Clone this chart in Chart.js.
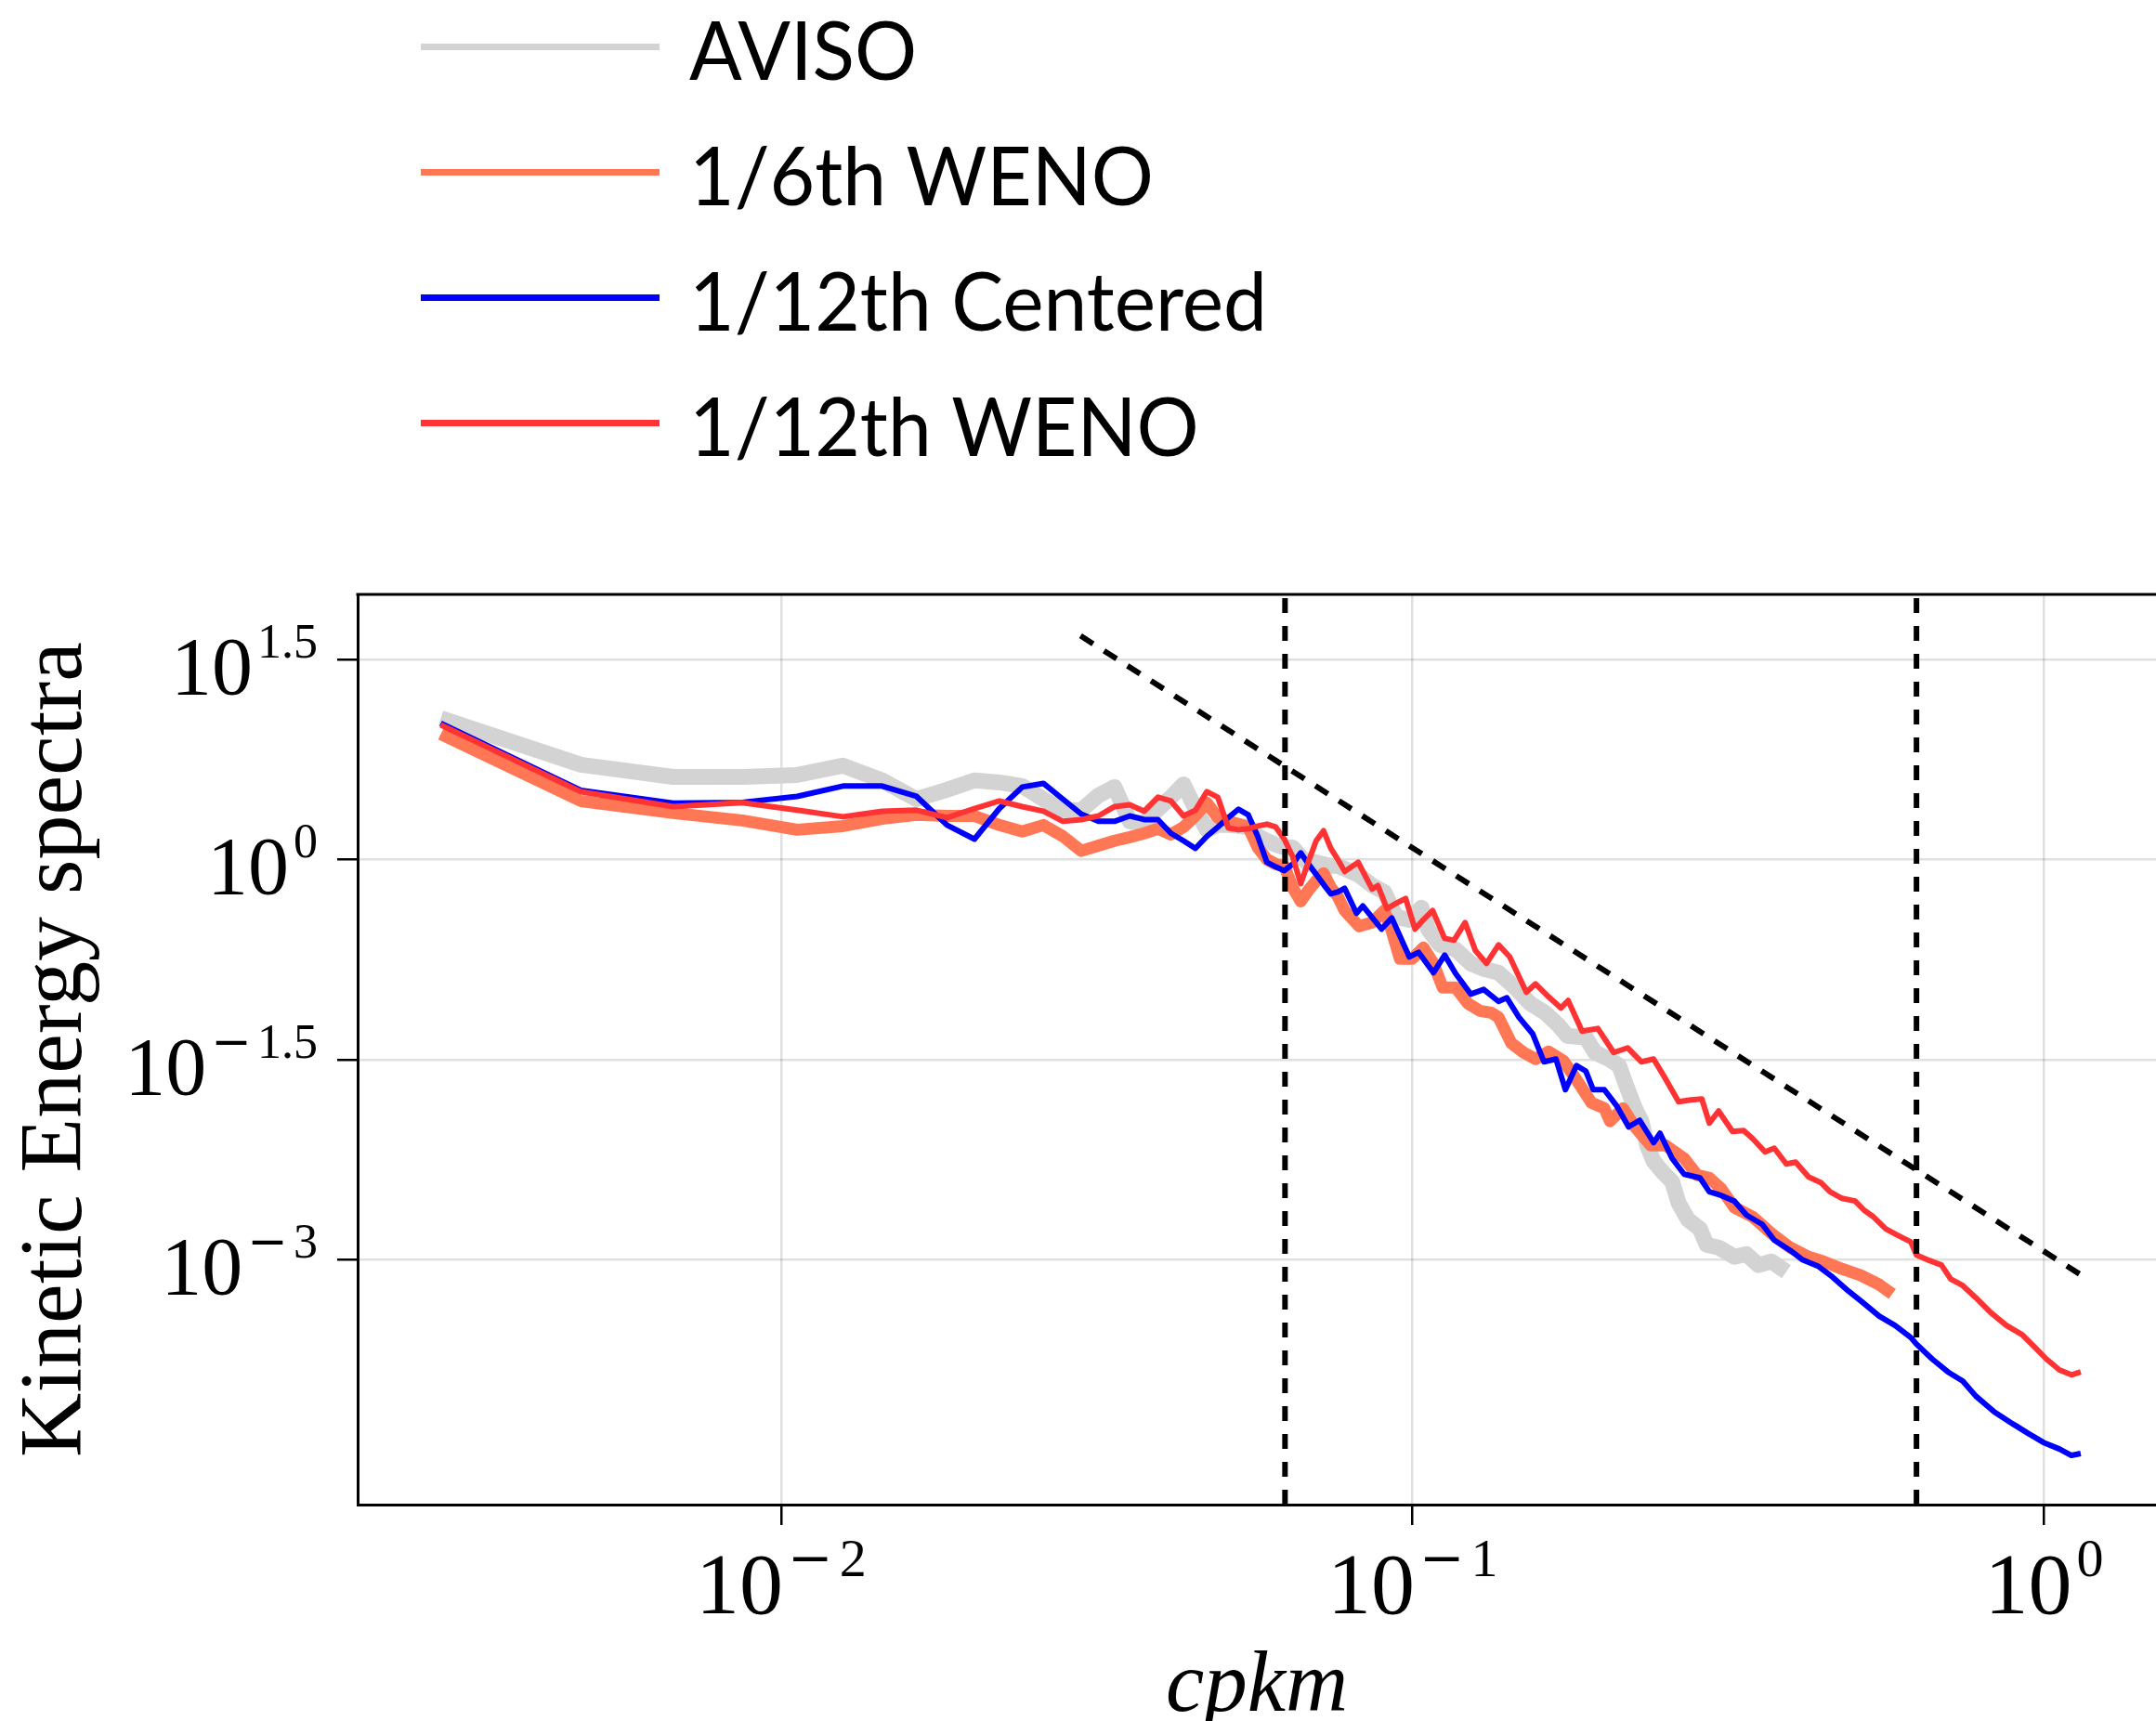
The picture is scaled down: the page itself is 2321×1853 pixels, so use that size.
<!DOCTYPE html>
<html>
<head>
<meta charset="utf-8">
<title>Kinetic Energy spectra</title>
<script src="https://cdn.jsdelivr.net/npm/chart.js@4.4.1/dist/chart.umd.min.js"></script>
<style>
  html, body { margin: 0; padding: 0; background: #fff; overflow: hidden; }
  canvas { display: block; }
</style>
</head>
<body>
<canvas id="spectra" width="2321" height="1853"></canvas>
<script>
// wavenumbers of the first 40 samples (shared by every run), cpkm
const kGrid = [0.002891, 0.004819, 0.006746, 0.008674, 0.010601, 0.012529, 0.014456, 0.016384, 0.018311, 0.020239,
  0.022166, 0.024094, 0.026021, 0.027949, 0.029876, 0.031804, 0.033731, 0.035659, 0.037586, 0.039514,
  0.041441, 0.043369, 0.045296, 0.047224, 0.049151, 0.051079, 0.053006, 0.054934, 0.056861, 0.058789,
  0.060716, 0.062644, 0.064571, 0.066499, 0.068426, 0.070354, 0.072281, 0.074209, 0.076136, 0.078064];

// AVISO
const avisoLowE = [11.43, 5.13, 4.16, 4.16, 4.30, 5.05, 3.91, 2.83, 3.33, 3.91,
  3.78, 3.55, 2.83, 2.34, 2.34, 3.02, 3.49, 1.93, 1.87, 2.38,
  2.93, 3.66, 2.41, 1.67, 1.81, 1.81, 1.78, 1.75, 1.49, 1.38,
  1.29, 1.23, 1.23, 1.05, 0.923, 0.953, 0.923, 0.894, 0.894, 0.852];
const avisoK = [0.0823, 0.0863, 0.0902, 0.0943, 0.0988, 0.1033, 0.1058, 0.1105, 0.1170, 0.1236,
  0.1296, 0.1368, 0.1449, 0.1535, 0.1620, 0.1699, 0.1758, 0.1881, 0.1945, 0.2046,
  0.2124, 0.2175, 0.2250, 0.2304, 0.2352, 0.2408, 0.2491, 0.2576, 0.2638, 0.2729,
  0.2852, 0.2921, 0.3052, 0.3233, 0.3378, 0.3530, 0.3702, 0.3907];
const avisoE = [0.7615, 0.638, 0.5706, 0.3703, 0.3529, 0.4347, 0.3007, 0.2290, 0.2113, 0.1662,
  0.1510, 0.1416, 0.1113, 0.0834, 0.0711, 0.0577, 0.0476, 0.0461, 0.0357, 0.0319,
  0.0285, 0.0207, 0.01365, 0.01091, 0.00719, 0.00547, 0.00452, 0.00385, 0.00266, 0.00200,
  0.00170, 0.001294, 0.001234, 0.001051, 0.001103, 0.000910, 0.000970, 0.000813];

// 1/6th WENO
const weno6LowE = [8.70, 2.74, 2.23, 1.96, 1.67, 1.78, 2.02, 2.16, 2.12, 2.12,
  1.81, 1.62, 1.81, 1.49, 1.16, 1.27, 1.38, 1.47, 1.57, 1.70,
  1.54, 1.75, 2.12, 2.66, 2.06, 1.93, 1.84, 1.75, 1.23, 1.00,
  0.923, 0.894, 0.618, 0.486, 0.589, 0.692, 0.787, 0.618, 0.527, 0.414];
const weno6K = [0.0823, 0.0863, 0.0902, 0.0923, 0.0955, 0.0998, 0.1040, 0.1079, 0.1116, 0.1170,
  0.1223, 0.1278, 0.1331, 0.1368, 0.1434, 0.1499, 0.1566, 0.1642, 0.1734, 0.1837,
  0.1919, 0.2012, 0.2054, 0.2154, 0.2250, 0.2383, 0.2516, 0.2692, 0.2823, 0.2951,
  0.3083, 0.3233, 0.3459, 0.3702, 0.3961, 0.4238, 0.4474, 0.4787, 0.5124, 0.5483, 0.5749];
const weno6E = [0.3155, 0.3363, 0.4143, 0.3105, 0.1800, 0.1800, 0.2183, 0.1662, 0.1096, 0.1096,
  0.0834, 0.0734, 0.0711, 0.0656, 0.0419, 0.0357, 0.0319, 0.0363, 0.0309, 0.0207,
  0.01502, 0.01365, 0.01091, 0.01365, 0.00990, 0.00719, 0.00719, 0.00574, 0.00431, 0.00410,
  0.00339, 0.00246, 0.00209, 0.00157, 0.001234, 0.001051, 0.000970, 0.000853, 0.000763, 0.000650, 0.000553];

// 1/12th Centered
const centLowE = [10.5, 3.30, 2.64, 2.68, 2.97, 3.55, 3.55, 2.97, 1.81, 1.42,
  2.41, 3.49, 3.72, 2.83, 2.19, 1.93, 1.93, 2.12, 1.99, 1.99,
  1.57, 1.38, 1.21, 1.49, 1.75, 2.06, 2.38, 2.16, 1.49, 0.953,
  0.880, 0.824, 0.923, 1.12, 0.923, 0.774, 0.649, 0.553, 0.571, 0.608];
const centK = [0.0815, 0.0834, 0.0893, 0.0927, 0.0988, 0.1022, 0.1079, 0.1124, 0.1170, 0.1236,
  0.1296, 0.1368, 0.1410, 0.1474, 0.1550, 0.1615, 0.1687, 0.1746, 0.1818, 0.1881,
  0.1932, 0.2012, 0.2103, 0.2198, 0.2289, 0.2408, 0.2465, 0.2576, 0.2692, 0.2852,
  0.2951, 0.3083, 0.3233, 0.3378, 0.3578, 0.3739, 0.3961, 0.4139, 0.4384, 0.4628,
  0.4902, 0.5158, 0.5483, 0.5808, 0.6152, 0.6278, 0.6650, 0.7044, 0.7435, 0.7796,
  0.8342, 0.8925, 0.9426, 0.9984, 1.0576, 1.105, 1.143];
const centE = [0.3949, 0.4488, 0.3007, 0.3643, 0.1859, 0.2014, 0.1416, 0.1919, 0.1393, 0.0979,
  0.1061, 0.0862, 0.0918, 0.0656, 0.0492, 0.0304, 0.0319, 0.0188, 0.0285, 0.0259,
  0.0188, 0.0188, 0.0143, 0.00990, 0.01108, 0.00754, 0.00885, 0.00574, 0.00437, 0.00410,
  0.00323, 0.00303, 0.00275, 0.00216, 0.00184, 0.00140, 0.001176, 0.001002, 0.000895, 0.000739,
  0.000581, 0.000479, 0.000377, 0.000321, 0.000261, 0.000233, 0.000180, 0.000144, 0.000123, 0.0000950,
  0.0000723, 0.0000587, 0.0000500, 0.0000426, 0.0000381, 0.0000341, 0.0000352];

// 1/12th WENO
const weno12LowE = [10.21, 3.22, 2.49, 2.66, 2.34, 2.09, 2.30, 2.34, 2.06, 2.41,
  2.74, 2.49, 2.30, 1.93, 1.99, 2.12, 2.49, 2.57, 2.30, 2.93,
  2.74, 2.12, 2.34, 3.22, 2.93, 1.72, 1.67, 1.70, 1.78, 1.84,
  1.75, 1.42, 1.05, 0.659, 0.968, 1.38, 1.64, 1.21, 1.00, 0.812];
const weno12K = [0.0820, 0.0863, 0.0881, 0.0911, 0.0943, 0.0975, 0.1009, 0.1040, 0.1076, 0.1124,
  0.1163, 0.1211, 0.1257, 0.1309, 0.1368, 0.1425, 0.1514, 0.1566, 0.1642, 0.1717,
  0.1763, 0.1855, 0.1965, 0.2082, 0.2190, 0.2304, 0.2408, 0.2508, 0.2638, 0.2757,
  0.2871, 0.2951, 0.3052, 0.3211, 0.3344, 0.3459, 0.3615, 0.3739, 0.3907, 0.4042,
  0.4238, 0.4429, 0.4581, 0.4787, 0.5020, 0.5193, 0.5371, 0.5615, 0.5867, 0.6152,
  0.6278, 0.6582, 0.6879, 0.7115, 0.7435, 0.7796, 0.8230, 0.8718, 0.9234, 0.9652,
  1.0085, 1.0576, 1.105, 1.143];
const weno12E = [0.953, 0.599, 0.638, 0.428, 0.471, 0.510, 0.3007, 0.3529, 0.4143, 0.2562,
  0.2481, 0.3363, 0.2080, 0.1662, 0.2290, 0.1859, 0.1011, 0.1168, 0.0934, 0.0770,
  0.0876, 0.0516, 0.0541, 0.0357, 0.0387, 0.0304, 0.0319, 0.0232, 0.01527, 0.01576,
  0.01602, 0.01056, 0.01301, 0.00914, 0.00929, 0.00804, 0.00643, 0.00685, 0.00522, 0.00539,
  0.00417, 0.00379, 0.00323, 0.00288, 0.00275, 0.00234, 0.00209, 0.00170, 0.00152, 0.00136,
  0.001085, 0.000986, 0.000910, 0.000715, 0.000639, 0.000519, 0.000402, 0.000321, 0.000274, 0.000222,
  0.000180, 0.000149, 0.000137, 0.000144];

// reference lines: two scale markers and a k^-3 slope
const markerK = [0.0628, 0.628];
const slopeK = [0.0298, 1.147];
const slopeE = [47.5, 0.000762];

// axes
const xRange = [0.002135, 1.504];
const yRange = [1.459e-5, 97.0];
const xTickValues = [0.01, 0.1, 1];
const xTickExponents = ['-2', '-1', '0'];
const yTickValues = [0.001, 0.0316228, 1, 31.6228];
const yTickExponents = ['-3', '-1.5', '0', '1.5'];

const toPoints = (ks, es) => ks.map((k, i) => ({ x: k, y: es[i] }));

function series(label, color, width, order, ks, es) {
  return {
    label, data: toPoints(ks, es), borderColor: color, backgroundColor: color,
    borderWidth: width, pointRadius: 0, tension: 0, fill: false, order,
    borderJoinStyle: 'round', borderCapStyle: 'butt'
  };
}

function refLine(points) {
  return {
    label: '', isRef: true, data: points, borderColor: '#000', borderWidth: 6,
    borderDash: [16, 14], pointRadius: 0, fill: false, order: 0
  };
}

const datasets = [
  series('AVISO', '#d3d3d3', 17, 4, kGrid.concat(avisoK), avisoLowE.concat(avisoE)),
  series('1/6th WENO', '#ff7755', 13, 3, kGrid.concat(weno6K), weno6LowE.concat(weno6E)),
  series('1/12th Centered', '#0000ff', 6, 2, kGrid.concat(centK), centLowE.concat(centE)),
  series('1/12th WENO', '#ff3333', 6, 1, kGrid.concat(weno12K), weno12LowE.concat(weno12E)),
  refLine([{ x: markerK[0], y: yRange[0] }, { x: markerK[0], y: yRange[1] }]),
  refLine([{ x: markerK[1], y: yRange[0] }, { x: markerK[1], y: yRange[1] }]),
  refLine(toPoints(slopeK, slopeE))
];

// superscript: a long math minus (DejaVu) followed by the digits (Liberation)
function expWidth(ctx, s, size) {
  let w = 0, rest = s;
  if (s[0] === '-') {
    ctx.font = size + 'px "DejaVu Serif"';
    w += ctx.measureText('\u2212').width + size * 0.12;
    rest = s.slice(1);
  }
  ctx.font = size + 'px "Liberation Serif"';
  return w + ctx.measureText(rest).width;
}

function drawExp(ctx, s, size, x0, yb) {
  let x = x0, rest = s;
  if (s[0] === '-') {
    ctx.font = size + 'px "DejaVu Serif"';
    ctx.fillText('\u2212', x, yb);
    x += ctx.measureText('\u2212').width + size * 0.12;
    rest = s.slice(1);
  }
  ctx.font = size + 'px "Liberation Serif"';
  ctx.fillText(rest, x, yb);
}

// legend, tick labels (10 with superscript) and top frame line
const decor = {
  id: 'decor',
  afterDraw(chart) {
    const { ctx, chartArea, scales: { x, y } } = chart;
    ctx.save();

    ctx.strokeStyle = '#000';
    ctx.lineWidth = 3;
    ctx.beginPath();
    ctx.moveTo(chartArea.left - 1.5, chartArea.top);
    ctx.lineTo(chartArea.right, chartArea.top);
    ctx.stroke();

    ctx.fillStyle = '#000';
    ctx.textBaseline = 'alphabetic';
    ctx.textAlign = 'left';

    // y tick labels
    const yRight = y.right - 43;
    yTickValues.forEach((v, i) => {
      const py = y.getPixelForValue(v);
      const ew = expWidth(ctx, yTickExponents[i], 52);
      drawExp(ctx, yTickExponents[i], 52, yRight - ew, py - 2);
      ctx.font = '88px "Liberation Serif"';
      const bw = ctx.measureText('10').width;
      ctx.fillText('10', yRight - ew - 5 - bw, py + 37);
    });

    // x tick labels
    xTickValues.forEach((v, i) => {
      const px = x.getPixelForValue(v);
      ctx.font = '94px "Liberation Serif"';
      const bw = ctx.measureText('10').width;
      const ew = expWidth(ctx, xTickExponents[i], 58);
      const start = px - (bw + 5 + ew) / 2;
      drawExp(ctx, xTickExponents[i], 58, start + bw + 5, x.top + 77);
      ctx.font = '94px "Liberation Serif"';
      ctx.fillText('10', start, x.top + 117);
    });

    // legend
    const items = chart.data.datasets.filter(d => !d.isRef);
    ctx.font = '88px Lato';
    const squeeze = 622 / ctx.measureText('1/12th Centered').width;
    items.forEach((d, i) => {
      const ly = 50.5 + i * 135;
      ctx.strokeStyle = d.borderColor;
      ctx.lineWidth = 7;
      ctx.lineCap = 'butt';
      ctx.beginPath();
      ctx.moveTo(453, ly);
      ctx.lineTo(710, ly);
      ctx.stroke();
      ctx.save();
      ctx.translate(742, ly + 35);
      ctx.scale(squeeze, 1);
      ctx.fillText(d.label, 0, 0);
      ctx.restore();
    });

    ctx.restore();
  }
};

const gridStyle = {
  color: 'rgba(0,0,0,0.12)', lineWidth: 2.5, drawTicks: true,
  tickLength: 22, tickColor: '#000', tickWidth: 2.5
};

new Chart(document.getElementById('spectra').getContext('2d'), {
  type: 'line',
  data: { datasets },
  options: {
    responsive: false,
    devicePixelRatio: 1,
    animation: false,
    layout: { padding: { top: 640, left: 0, right: 0, bottom: 0 } },
    plugins: { legend: { display: false }, tooltip: { enabled: false } },
    scales: {
      x: {
        type: 'logarithmic', min: xRange[0], max: xRange[1],
        afterBuildTicks: s => { s.ticks = xTickValues.map(v => ({ value: v })); },
        afterFit: s => { s.height = 233; },
        grid: gridStyle,
        border: { display: true, color: '#000', width: 3 },
        ticks: { display: false },
        title: {
          display: true, text: 'cpkm', color: '#000',
          font: { family: 'Liberation Serif', style: 'italic', size: 93, lineHeight: 0.76 },
          padding: { top: 0, bottom: 0 }
        }
      },
      y: {
        type: 'logarithmic', min: yRange[0], max: yRange[1],
        afterBuildTicks: s => { s.ticks = yTickValues.map(v => ({ value: v })); },
        afterFit: s => { s.width = 385; },
        grid: gridStyle,
        border: { display: true, color: '#000', width: 3 },
        ticks: { display: false },
        title: {
          display: true, text: 'Kinetic Energy spectra', color: '#000',
          font: { family: 'Liberation Serif', size: 96, lineHeight: 1 },
          padding: { top: 14, bottom: 0 }
        }
      }
    }
  },
  plugins: [decor]
});
</script>
</body>
</html>
